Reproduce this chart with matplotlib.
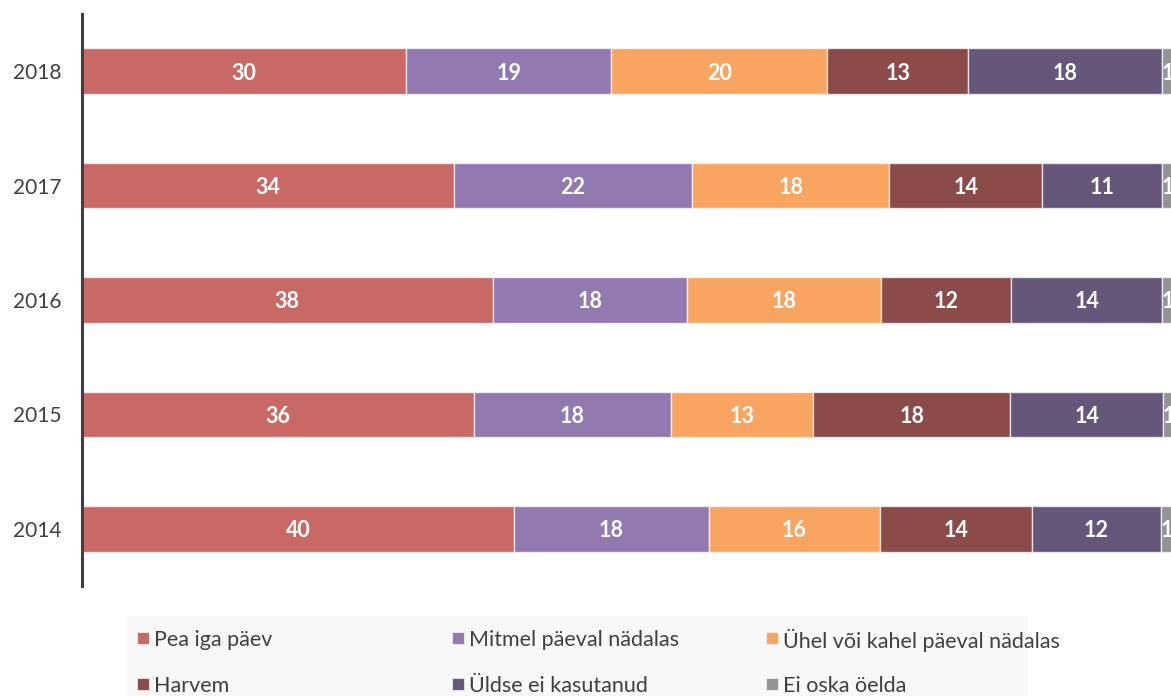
import numpy as np
import matplotlib
matplotlib.use("Agg")
import matplotlib.pyplot as plt
from matplotlib.patches import Rectangle

plt.rcParams['font.family'] = ['Lato', 'DejaVu Sans']

years = ["2014", "2015", "2016", "2017", "2018"]
categories = ["Pea iga päev", "Mitmel päeval nädalas", "Ühel või kahel päeval nädalas",
              "Harvem", "Üldse ei kasutanud", "Ei oska öelda"]
colors = ["#c86966", "#927ab0", "#f8a562", "#8b4b4b", "#66577a", "#939393"]

# values per category, ordered 2014..2018
pea_iga_paev = [40.0, 36.3, 38.0, 34.4, 30.0]
mitmel_paeval = [18.0, 18.2, 18.0, 22.1, 19.0]
uhel_kahel = [15.9, 13.2, 18.0, 18.2, 20.0]
harvem = [14.0, 18.2, 12.0, 14.2, 13.0]
uldse_ei = [12.0, 14.2, 14.0, 11.1, 18.0]
ei_oska = [1.0, 1.0, 1.0, 1.0, 1.0]
series = [pea_iga_paev, mitmel_paeval, uhel_kahel, harvem, uldse_ei, ei_oska]

W, H = 1171, 696
fig = plt.figure(figsize=(W / 100, H / 100), dpi=100)
ax = fig.add_axes([82 / W, 110 / H, 1 - 82 / W, 572 / H])

y = np.arange(len(years))
left = np.zeros(len(years))
for name, vals, col in zip(categories, series, colors):
    vals = np.array(vals)
    ax.barh(y, vals, left=left, height=0.4, color=col, label=name,
            edgecolor=(1, 1, 1, 0.7), linewidth=1)
    for yi, l, v in zip(y, left, vals):
        ax.text(l + v / 2, yi, f"{v:.0f}", ha="center", va="center_baseline",
                color="white", fontsize=15.5, fontweight="bold", clip_on=True)
    left += vals

ax.set_xlim(0, 100.8)
ax.set_ylim(-0.5, 4.5)
ax.set_yticks(y)
ax.set_yticklabels(years, fontsize=15, color="#404040")
ax.tick_params(axis="y", length=0, pad=15)
ax.set_xticks([])
for s in ["top", "right", "bottom"]:
    ax.spines[s].set_visible(False)
ax.spines["left"].set_color("#404040")
ax.spines["left"].set_linewidth(2.2)

# legend drawn by hand: fixed-width columns, row-wise order
fig.patches.append(Rectangle((127 / W, 0), 901 / W, 80 / H, transform=fig.transFigure,
                             facecolor="#f8f8f8", edgecolor="none", zorder=0))
col_x = [137, 452, 766]
row_y = [638, 684]
for i, (name, col) in enumerate(zip(categories, colors)):
    cx = col_x[i % 3]
    cy = row_y[i // 3]
    fig.patches.append(Rectangle((cx / W, 1 - (cy + 6) / H), 12 / W, 12 / H,
                                 transform=fig.transFigure, facecolor=col,
                                 edgecolor=(1, 1, 1, 0.6), linewidth=0.8, zorder=1))
    fig.text((cx + 17) / W, 1 - cy / H, name, ha="left", va="center_baseline",
             fontsize=15.5, color="#404040")

fig.savefig("out.png", dpi=100)
